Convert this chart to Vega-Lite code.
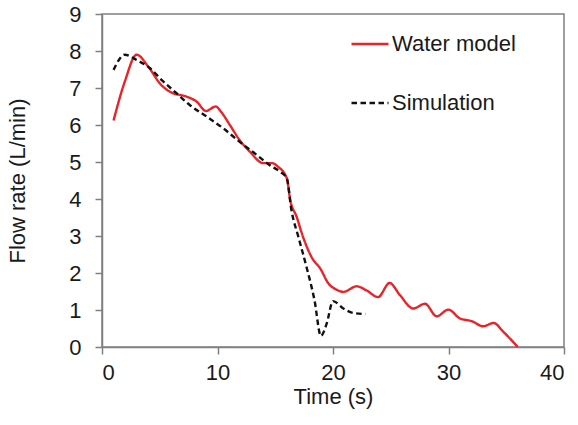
{
  "$schema": "https://vega.github.io/schema/vega-lite/v6.json",
  "width": 462,
  "height": 333,
  "autosize": "none",
  "padding": {"left": 102, "top": 14, "right": 14, "bottom": 78},
  "config": {
    "font": "Liberation Sans",
    "view": {"stroke": "#808080", "strokeWidth": 1.5},
    "axis": {"grid": false, "domainColor": "#808080", "tickColor": "#808080", "domainWidth": 1.5, "tickWidth": 1.5, "labelFont": "Liberation Sans", "titleFont": "Liberation Sans", "labelColor": "#1a1a1a", "titleColor": "#1a1a1a", "labelFontSize": 22, "titleFontSize": 22, "titleFontWeight": "normal"}
  },
  "data": {"values": [
    {"t": 1.0, "q": 6.12, "s": "Water model"},
    {"t": 2.0, "q": 7.2, "s": "Water model"},
    {"t": 3.0, "q": 7.9, "s": "Water model"},
    {"t": 4.0, "q": 7.58, "s": "Water model"},
    {"t": 5.1, "q": 7.09, "s": "Water model"},
    {"t": 6.0, "q": 6.88, "s": "Water model"},
    {"t": 7.3, "q": 6.77, "s": "Water model"},
    {"t": 8.2, "q": 6.63, "s": "Water model"},
    {"t": 9.0, "q": 6.38, "s": "Water model"},
    {"t": 9.85, "q": 6.5, "s": "Water model"},
    {"t": 10.3, "q": 6.36, "s": "Water model"},
    {"t": 11.07, "q": 6.0, "s": "Water model"},
    {"t": 11.9, "q": 5.6, "s": "Water model"},
    {"t": 12.8, "q": 5.28, "s": "Water model"},
    {"t": 13.95, "q": 4.97, "s": "Water model"},
    {"t": 14.7, "q": 4.97, "s": "Water model"},
    {"t": 15.25, "q": 4.87, "s": "Water model"},
    {"t": 16.0, "q": 4.56, "s": "Water model"},
    {"t": 16.3, "q": 3.97, "s": "Water model"},
    {"t": 16.85, "q": 3.52, "s": "Water model"},
    {"t": 17.4, "q": 2.98, "s": "Water model"},
    {"t": 18.2, "q": 2.4, "s": "Water model"},
    {"t": 18.9, "q": 2.12, "s": "Water model"},
    {"t": 19.6, "q": 1.72, "s": "Water model"},
    {"t": 20.3, "q": 1.55, "s": "Water model"},
    {"t": 20.9, "q": 1.49, "s": "Water model"},
    {"t": 22.05, "q": 1.64, "s": "Water model"},
    {"t": 22.9, "q": 1.53, "s": "Water model"},
    {"t": 23.9, "q": 1.35, "s": "Water model"},
    {"t": 24.9, "q": 1.73, "s": "Water model"},
    {"t": 25.8, "q": 1.4, "s": "Water model"},
    {"t": 26.95, "q": 1.04, "s": "Water model"},
    {"t": 27.96, "q": 1.17, "s": "Water model"},
    {"t": 28.98, "q": 0.83, "s": "Water model"},
    {"t": 29.98, "q": 1.01, "s": "Water model"},
    {"t": 31.0, "q": 0.77, "s": "Water model"},
    {"t": 32.0, "q": 0.7, "s": "Water model"},
    {"t": 33.0, "q": 0.56, "s": "Water model"},
    {"t": 33.9, "q": 0.65, "s": "Water model"},
    {"t": 34.75, "q": 0.41, "s": "Water model"},
    {"t": 36.0, "q": 0.0, "s": "Water model"},
    {"t": 1.0, "q": 7.49, "s": "Simulation"},
    {"t": 1.97, "q": 7.9, "s": "Simulation"},
    {"t": 2.98, "q": 7.76, "s": "Simulation"},
    {"t": 4.13, "q": 7.54, "s": "Simulation"},
    {"t": 5.15, "q": 7.22, "s": "Simulation"},
    {"t": 6.45, "q": 6.86, "s": "Simulation"},
    {"t": 7.6, "q": 6.54, "s": "Simulation"},
    {"t": 9.05, "q": 6.23, "s": "Simulation"},
    {"t": 10.5, "q": 5.91, "s": "Simulation"},
    {"t": 11.9, "q": 5.55, "s": "Simulation"},
    {"t": 13.4, "q": 5.19, "s": "Simulation"},
    {"t": 14.5, "q": 4.92, "s": "Simulation"},
    {"t": 15.4, "q": 4.74, "s": "Simulation"},
    {"t": 16.0, "q": 4.56, "s": "Simulation"},
    {"t": 16.4, "q": 3.7, "s": "Simulation"},
    {"t": 17.0, "q": 2.98, "s": "Simulation"},
    {"t": 17.7, "q": 2.17, "s": "Simulation"},
    {"t": 18.4, "q": 1.26, "s": "Simulation"},
    {"t": 18.95, "q": 0.3, "s": "Simulation"},
    {"t": 19.45, "q": 0.63, "s": "Simulation"},
    {"t": 20.0, "q": 1.24, "s": "Simulation"},
    {"t": 20.9, "q": 1.04, "s": "Simulation"},
    {"t": 21.75, "q": 0.92, "s": "Simulation"},
    {"t": 22.8, "q": 0.89, "s": "Simulation"}
  ]},
  "mark": {"type": "line", "interpolate": "monotone", "strokeWidth": 2.4},
  "encoding": {
    "x": {"field": "t", "type": "quantitative", "title": "Time (s)",
      "scale": {"domain": [0, 40], "nice": false},
      "axis": {"values": [0, 10, 20, 30, 40], "tickSize": 7, "labelPadding": 8, "titlePadding": 3}},
    "y": {"field": "q", "type": "quantitative", "title": "Flow rate (L/min)",
      "scale": {"domain": [0, 9], "nice": false},
      "axis": {"values": [0, 1, 2, 3, 4, 5, 6, 7, 8, 9], "tickSize": 7, "labelPadding": 14, "titlePadding": 39}},
    "color": {"field": "s", "type": "nominal", "title": null,
      "scale": {"domain": ["Water model", "Simulation"], "range": ["#e8242a", "#111111"]},
      "legend": {"orient": "none", "legendX": 248, "legendY": 10, "symbolType": "stroke", "symbolSize": 1369, "symbolStrokeWidth": 2.4, "labelFontSize": 22, "labelFont": "Liberation Sans", "labelColor": "#1a1a1a", "rowPadding": 28, "labelOffset": 2}},
    "strokeDash": {"field": "s", "type": "nominal", "title": null,
      "scale": {"domain": ["Water model", "Simulation"], "range": [[1, 0], [5.5, 3.5]]}}
  }
}
